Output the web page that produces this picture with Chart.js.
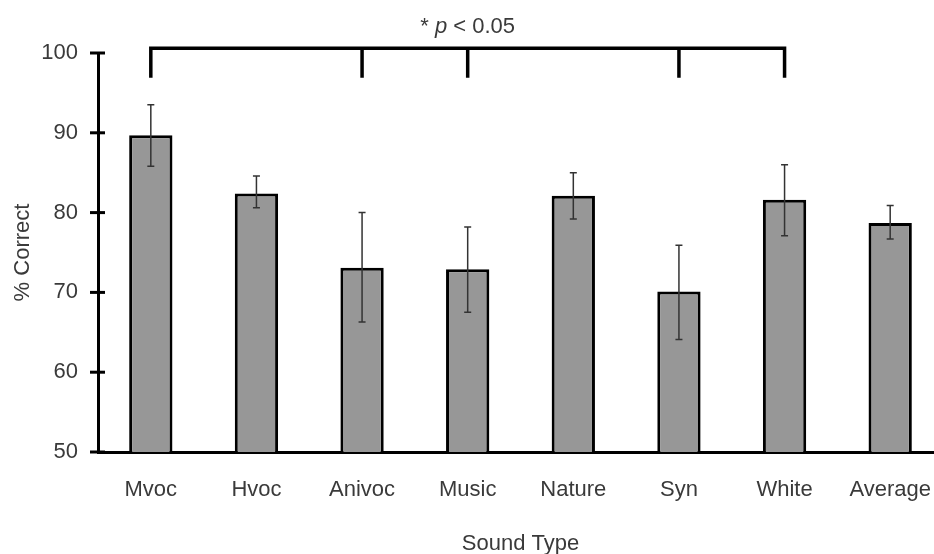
<!DOCTYPE html>
<html>
<head>
<meta charset="utf-8">
<script src="https://cdn.jsdelivr.net/npm/chart.js@4"></script>
<style>
  html, body { margin: 0; padding: 0; background: #fff; overflow: hidden; }
  #wrap { position: relative; width: 944px; height: 554px; }
</style>
</head>
<body>
<div id="wrap"><canvas id="chart" width="944" height="554"></canvas></div>
<script>
// --- data ---
const soundTypes = ['Mvoc', 'Hvoc', 'Anivoc', 'Music', 'Nature', 'Syn', 'White', 'Average'];
const pctCorrect = [89.7, 82.4, 73.1, 72.9, 82.1, 70.1, 81.6, 78.7];
const errHigh    = [93.5, 84.6, 80.0, 78.2, 85.0, 75.9, 86.0, 80.9];
const errLow     = [85.8, 80.6, 66.3, 67.5, 79.2, 64.1, 77.1, 76.7];
const yTicks     = [50, 60, 70, 80, 90, 100];

// significance bracket: Mvoc vs Anivoc, Music, Syn, White
const bracketIdx = [0, 2, 3, 5, 6];
const bracketTop = 100.6;
const bracketFoot = 96.9;

const textColor = '#3a3a3a';
const fontFam = '"Liberation Sans", Arial, Helvetica, sans-serif';

const errorBars = {
    id: 'errorBars',
    afterDatasetsDraw(chart) {
        const { ctx } = chart;
        const y = chart.scales.y;
        const meta = chart.getDatasetMeta(0);
        ctx.save();
        ctx.strokeStyle = '#333';
        ctx.lineWidth = 1.5;
        meta.data.forEach((bar, i) => {
            const top = y.getPixelForValue(errHigh[i]);
            const bot = y.getPixelForValue(errLow[i]);
            ctx.beginPath();
            ctx.moveTo(bar.x, top); ctx.lineTo(bar.x, bot);
            ctx.moveTo(bar.x - 3.5, top); ctx.lineTo(bar.x + 3.5, top);
            ctx.moveTo(bar.x - 3.5, bot); ctx.lineTo(bar.x + 3.5, bot);
            ctx.stroke();
        });
        ctx.restore();
    }
};

// y tick marks that cross the axis, plus the bracket and its label
const decorations = {
    id: 'decorations',
    afterDraw(chart) {
        const { ctx, chartArea } = chart;
        const x = chart.scales.x, y = chart.scales.y;
        ctx.save();
        ctx.strokeStyle = '#000';
        ctx.lineWidth = 3;
        yTicks.forEach(v => {
            const py = y.getPixelForValue(v);
            ctx.beginPath();
            ctx.moveTo(chartArea.left - 8, py);
            ctx.lineTo(chartArea.left + 7, py);
            ctx.stroke();
        });

        const yt = y.getPixelForValue(bracketTop);
        const yf = y.getPixelForValue(bracketFoot);
        const xs = bracketIdx.map(i => x.getPixelForValue(i));
        ctx.lineWidth = 3.5;
        ctx.lineCap = 'butt';
        ctx.beginPath();
        ctx.moveTo(xs[0], yf);
        ctx.lineTo(xs[0], yt);
        ctx.lineTo(xs[xs.length - 1], yt);
        ctx.lineTo(xs[xs.length - 1], yf);
        xs.slice(1, -1).forEach(px => { ctx.moveTo(px, yt); ctx.lineTo(px, yf); });
        ctx.stroke();

        // "* p < 0.05" centred over the bracket
        const parts = [
            { t: '* ', f: '22px ' + fontFam },
            { t: 'p', f: 'italic 22px ' + fontFam },
            { t: ' < 0.05', f: '22px ' + fontFam }
        ];
        let total = 0;
        parts.forEach(p => { ctx.font = p.f; p.w = ctx.measureText(p.t).width; total += p.w; });
        let cx = (xs[0] + xs[xs.length - 1]) / 2 - total / 2;
        ctx.fillStyle = textColor;
        ctx.textBaseline = 'middle';
        ctx.textAlign = 'left';
        parts.forEach(p => { ctx.font = p.f; ctx.fillText(p.t, cx, yt - 21); cx += p.w; });
        ctx.restore();
    }
};

new Chart(document.getElementById('chart').getContext('2d'), {
    type: 'bar',
    data: {
        labels: soundTypes,
        datasets: [{
            label: '% Correct',
            data: pctCorrect,
            backgroundColor: '#979797',
            borderColor: '#000',
            borderWidth: 3,
            borderSkipped: false,
            barPercentage: 0.41,
            categoryPercentage: 1.0
        }]
    },
    options: {
        responsive: false,
        animation: false,
        devicePixelRatio: 1,
        layout: { padding: { top: 53, right: 1, left: 0, bottom: 0 } },
        plugins: {
            legend: { display: false },
            tooltip: { enabled: false }
        },
        scales: {
            x: {
                // tickLength spaces the labels down without widening the side padding
                grid: { display: false, drawTicks: true, tickLength: 25 },
                border: { display: true, color: '#000', width: 3 },
                ticks: {
                    color: textColor,
                    padding: 0,
                    maxRotation: 0,
                    autoSkip: false,
                    font: { family: fontFam, size: 22 }
                },
                title: {
                    display: true,
                    text: 'Sound Type',
                    color: textColor,
                    padding: { top: 0, bottom: -3 },
                    font: { family: fontFam, size: 22 }
                },
                afterFit: scale => { scale.height = 102; }
            },
            y: {
                min: 50,
                max: 100,
                afterBuildTicks: scale => { scale.ticks = yTicks.map(v => ({ value: v })); },
                grid: { display: false, drawTicks: false },
                border: { display: true, color: '#000', width: 3 },
                ticks: {
                    color: textColor,
                    padding: 20,
                    font: { family: fontFam, size: 22 }
                },
                title: {
                    display: true,
                    text: '% Correct',
                    color: textColor,
                    padding: { top: 10, bottom: 0 },
                    font: { family: fontFam, size: 22 }
                },
                afterFit: scale => { scale.width = 98; }
            }
        }
    },
    plugins: [errorBars, decorations]
});
</script>
</body>
</html>
